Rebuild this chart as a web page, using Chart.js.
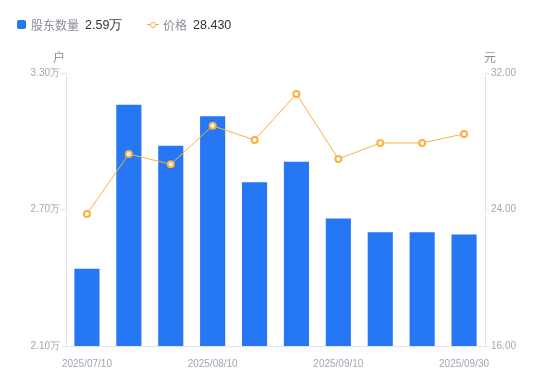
<!DOCTYPE html>
<html>
<head>
<meta charset="utf-8">
<script src="https://cdn.jsdelivr.net/npm/chart.js@4"></script>
<style>
  body { margin: 0; background: #fff; font-family: "Noto Sans CJK SC", "Liberation Sans", sans-serif; }
  #wrap { position: relative; width: 550px; height: 381px; }
  #legend { position: absolute; left: 17px; top: 14px; font-size: 12px; line-height: 18px; white-space: nowrap; }
  #legend span { display: inline-block; vertical-align: middle; }
  .name { color: #8a8c99; margin-left: 5px; }
  .val { color: #333; margin-left: 6px; font-family: "Liberation Sans", sans-serif; font-size: 12.5px; }
  .sq { width: 9px; height: 9px; background: #2677f3; border-radius: 2px; }
  .ln { width: 12px; height: 10px; position: relative; margin-left: 22px; }
  .ln:before { content: ""; position: absolute; left: 0; right: 0; top: 4.5px; height: 1px; background: #fbb040; }
  .ln:after { content: ""; position: absolute; left: 3px; top: 2px; width: 4px; height: 4px; border: 1.5px solid #fbb040; border-radius: 50%; background: #fff; }
</style>
</head>
<body>
<div id="wrap">
  <canvas id="c" width="550" height="381"></canvas>
  <div id="legend">
    <span class="sq"></span><span class="name">股东数量</span><span class="val" id="lv1"></span>
    <span class="ln"></span><span class="name" style="margin-left:4px">价格</span><span class="val" id="lv2"></span>
  </div>
</div>
<script>
const categories = ['2025/07/10', '2025/07/20', '2025/07/31', '2025/08/10', '2025/08/20',
                    '2025/08/31', '2025/09/10', '2025/09/19', '2025/09/26', '2025/09/30'];
const holders = [2.44, 3.16, 2.98, 3.11, 2.82, 2.91, 2.66, 2.60, 2.60, 2.59];
const prices = [23.74, 27.25, 26.65, 28.91, 28.07, 30.77, 26.96, 27.90, 27.90, 28.43];
const shownTicks = [0, 3, 6, 9];

document.getElementById('lv1').textContent = holders[holders.length - 1].toFixed(2) + '万';
document.getElementById('lv2').textContent = prices[prices.length - 1].toFixed(3);

const axisColor = '#e3e4ea';
const tickColor = '#a3a5b3';
const tickFont = { family: 'Liberation Sans', size: 10 };

// unit labels above the two y axes
const unitLabels = {
  id: 'unitLabels',
  afterDraw(chart) {
    const ctx = chart.ctx;
    const a = chart.chartArea;
    ctx.save();
    ctx.font = '12px "Noto Sans CJK SC"';
    ctx.fillStyle = '#8a8c99';
    ctx.textBaseline = 'middle';
    ctx.textAlign = 'center';
    ctx.fillText('户', a.left - 7, 57);
    ctx.fillText('元', a.right + 5, 57);
    ctx.restore();
  }
};

new Chart(document.getElementById('c'), {
  data: {
    labels: categories,
    datasets: [
      {
        type: 'line',
        label: '价格',
        data: prices,
        yAxisID: 'y1',
        borderColor: '#fbb040',
        borderWidth: 1,
        pointRadius: 3,
        pointBorderWidth: 2,
        pointBackgroundColor: '#fff',
        pointBorderColor: '#fbb040',
        tension: 0,
        order: 0
      },
      {
        type: 'bar',
        label: '股东数量',
        data: holders,
        yAxisID: 'y',
        backgroundColor: '#2677f3',
        categoryPercentage: 1,
        barPercentage: 0.6,
        order: 1
      }
    ]
  },
  options: {
    responsive: false,
    animation: false,
    layout: { padding: { top: 73 } },
    plugins: { legend: { display: false }, tooltip: { enabled: false } },
    scales: {
      x: {
        afterFit: s => { s.height = 35; },
        grid: { display: false },
        border: { color: axisColor },
        ticks: {
          autoSkip: false, maxRotation: 0, color: tickColor, font: tickFont, padding: 4,
          callback: (v, i) => shownTicks.includes(i) ? categories[i] : ''
        }
      },
      y: {
        position: 'left',
        min: 2.1, max: 3.3,
        afterFit: s => { s.width = 66; },
        grid: { drawOnChartArea: false, color: axisColor, tickLength: 4 },
        border: { color: axisColor },
        ticks: { stepSize: 0.6, color: tickColor, font: tickFont, padding: 2,
                 callback: v => v.toFixed(2) + '万' }
      },
      y1: {
        position: 'right',
        min: 16, max: 32,
        afterFit: s => { s.width = 65; },
        grid: { drawOnChartArea: false, color: axisColor, tickLength: 4 },
        border: { color: axisColor },
        ticks: { stepSize: 8, color: tickColor, font: tickFont, padding: 2,
                 callback: v => v.toFixed(2) }
      }
    }
  },
  plugins: [unitLabels]
});
</script>
</body>
</html>
